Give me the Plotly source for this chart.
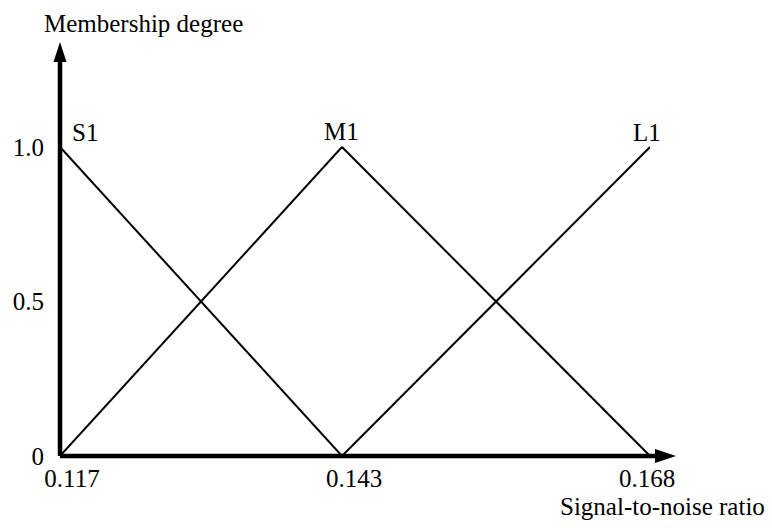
import plotly.graph_objects as go

# Breakpoints of the signal-to-noise ratio and the triangular membership functions
snr_points = [0.117, 0.143, 0.168]
set_names = ["S1", "M1", "L1"]
S1 = [1.0, 0.0, None]
M1 = [0.0, 1.0, 0.0]
L1 = [None, 0.0, 1.0]
y_tick_vals = [0, 0.5, 1.0]
y_tick_text = ["0", "0.5", "1.0"]
x_tick_text = ["0.117", "0.143", "0.168"]

series = {"S1": S1, "M1": M1, "L1": L1}
FONT = "Liberation Serif"
axes_ref = ["x", "x2"]  # left and right half of the ratio axis

fig = go.Figure()
for name in set_names:
    vals = series[name]
    for i in range(len(snr_points) - 1):
        a, b = vals[i], vals[i + 1]
        if a is None or b is None:
            continue
        fig.add_trace(go.Scatter(
            x=[snr_points[i], snr_points[i + 1]], y=[a, b],
            mode="lines", line=dict(color="black", width=2),
            xaxis=axes_ref[i], yaxis="y", showlegend=False, hoverinfo="skip",
        ))

tick_font = dict(family=FONT, size=25, color="black")
common_x = dict(showgrid=False, zeroline=False, showline=False, ticks="",
                tickfont=tick_font, ticklabelstandoff=5, fixedrange=True)
fig.update_layout(
    width=772, height=528,
    margin=dict(l=60, r=96, t=42, b=72),
    paper_bgcolor="white", plot_bgcolor="white",
    xaxis=dict(domain=[0, 0.4578], range=[snr_points[0], snr_points[1]],
               tickvals=snr_points[:2], ticktext=x_tick_text[:2],
               ticklabelshift=12, **common_x),
    xaxis2=dict(domain=[0.4578, 0.9578], range=[snr_points[1], snr_points[2]],
                anchor="y", tickvals=[snr_points[2]], ticktext=[x_tick_text[2]],
                ticklabelshift=-3, **common_x),
    yaxis=dict(range=[0, 1.3398], tickvals=y_tick_vals, ticktext=y_tick_text,
               showgrid=False, zeroline=False, showline=False, ticks="",
               tickfont=tick_font, ticklabelstandoff=15, fixedrange=True),
)

# Axis shafts with arrowheads
fig.add_shape(type="line", xref="paper", yref="paper", x0=0, y0=0, x1=0.97, y1=0,
              line=dict(color="black", width=4.5))
fig.add_shape(type="line", xref="paper", yref="paper", x0=0, y0=0, x1=0, y1=0.96,
              line=dict(color="black", width=4.5))
fig.add_shape(type="path", xref="paper", yref="paper", xsizemode="pixel",
              ysizemode="pixel", xanchor=1, yanchor=0,
              path="M -21 -7 L 0 0 L -21 7 Z", fillcolor="black",
              line=dict(color="black", width=0))
fig.add_shape(type="path", xref="paper", yref="paper", xsizemode="pixel",
              ysizemode="pixel", xanchor=0, yanchor=1,
              path="M -6.5 -20 L 0 0 L 6.5 -20 Z", fillcolor="black",
              line=dict(color="black", width=0))

label_font = dict(family=FONT, size=25, color="black")
# Fuzzy set names above each peak
fig.add_annotation(x=snr_points[0], y=S1[0], xref="x", yref="y", text="S1",
                   showarrow=False, xanchor="left", yanchor="middle",
                   xshift=10, yshift=15, font=label_font)
fig.add_annotation(x=snr_points[1], y=M1[1], xref="x2", yref="y", text="M1",
                   showarrow=False, xanchor="center", yanchor="middle",
                   xshift=-1, yshift=16, font=label_font)
fig.add_annotation(x=snr_points[2], y=L1[2], xref="x2", yref="y", text="L1",
                   showarrow=False, xanchor="center", yanchor="middle",
                   xshift=-3, yshift=15, font=label_font)

# Axis titles
fig.add_annotation(x=-0.0292, y=1.0435, xref="paper", yref="paper",
                   text="Membership degree", showarrow=False,
                   xanchor="left", yanchor="middle", font=label_font)
fig.add_annotation(x=1.1477, y=-0.1208, xref="paper", yref="paper",
                   text="Signal-to-noise ratio", showarrow=False,
                   xanchor="right", yanchor="middle", font=label_font)

fig.write_html("out.html")
